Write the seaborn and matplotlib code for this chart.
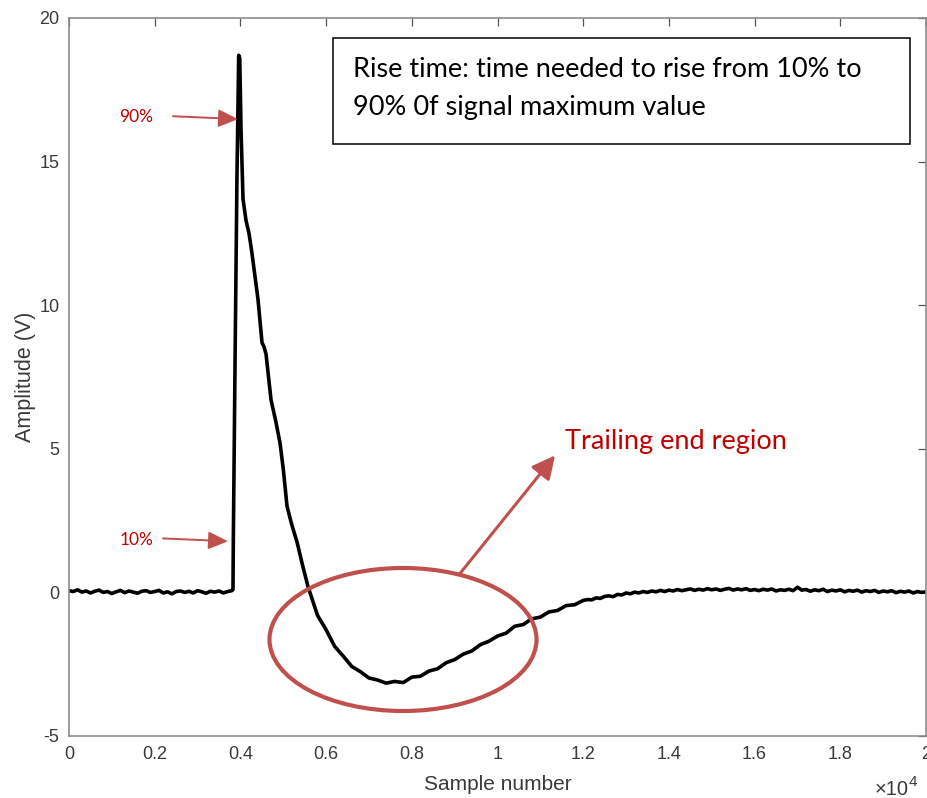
import numpy as np
import pandas as pd
import matplotlib
matplotlib.use("Agg")
import matplotlib.pyplot as plt
from matplotlib.patches import Ellipse, Rectangle
import seaborn as sns

# Pre-pulse baseline, sampled every 100 points
baseline_samples = list(range(0, 3900, 100))
baseline_amp = [
    0.06, 0.03, 0.09, 0.01, 0.05, -0.02, 0.04, 0.08, 0.00, 0.03, -0.04, 0.02,
    0.07, -0.01, 0.05, 0.01, -0.03, 0.04, 0.06, 0.00, 0.03, 0.07, -0.02, 0.02,
    -0.05, 0.03, 0.05, 0.00, 0.04, -0.02, 0.06, 0.02, -0.03, 0.04, 0.01, 0.05,
    -0.02, 0.03, 0.06,
]

# Pulse: sharp rise, decay and undershoot
pulse_samples = [
    3827, 3835, 3875, 3920, 3960, 3985, 4015, 4061, 4131, 4201, 4271, 4340,
    4411, 4504, 4550, 4598, 4715, 4820, 4925, 5000, 5088, 5200, 5322, 5450,
    5578, 5800, 6000, 6200, 6400, 6600, 6800, 7000, 7200, 7400, 7600, 7800,
    8000, 8200, 8400, 8600, 8800, 9000, 9200, 9400, 9600, 9800, 10000, 10200,
    10400, 10600, 10800, 11000, 11200, 11400, 11600, 11800, 12000,
]
pulse_amp = [
    0.10, 1.80, 8.00, 14.50, 18.70, 18.60, 16.10, 13.70, 12.95, 12.50, 11.80,
    11.00, 10.20, 8.70, 8.55, 8.30, 6.70, 6.00, 5.20, 4.30, 3.00, 2.35, 1.75,
    0.95, 0.20, -0.80, -1.30, -1.88, -2.22, -2.58, -2.76, -2.98, -3.05, -3.16,
    -3.10, -3.14, -2.95, -2.92, -2.74, -2.66, -2.45, -2.34, -2.15, -2.04,
    -1.82, -1.70, -1.52, -1.42, -1.18, -1.12, -0.92, -0.86, -0.68, -0.63,
    -0.46, -0.43, -0.28,
]

# Recovery tail back to the baseline, sampled every 100 points
tail_samples = list(range(12100, 20100, 100))
tail_amp = [
    -0.25, -0.26, -0.19, -0.21, -0.14, -0.12, -0.15, -0.07, -0.09, -0.02,
    -0.05, 0.01, -0.02, 0.03, 0.00, 0.05, 0.02, 0.07, 0.03, 0.08,
    0.05, 0.10, 0.06, 0.09, 0.12, 0.07, 0.11, 0.08, 0.13, 0.09,
    0.12, 0.07, 0.11, 0.14, 0.08, 0.12, 0.09, 0.13, 0.07, 0.10,
    0.06, 0.11, 0.08, 0.12, 0.05, 0.09, 0.07, 0.11, 0.06, 0.18,
    0.08, 0.10, 0.04, 0.09, 0.06, 0.11, 0.03, 0.08, 0.05, 0.09,
    0.02, 0.07, 0.04, 0.08, 0.01, 0.06, 0.03, 0.07, 0.00, 0.05,
    0.02, 0.06, -0.01, 0.04, 0.01, 0.05, -0.02, 0.03, 0.00, 0.02,
]

x_ticks = [0, 2000, 4000, 6000, 8000, 10000, 12000, 14000, 16000, 18000, 20000]
x_tick_labels = ["0", "0.2", "0.4", "0.6", "0.8", "1", "1.2", "1.4", "1.6", "1.8", "2"]
y_ticks = [-5, 0, 5, 10, 15, 20]
y_tick_labels = ["-5", "0", "5", "10", "15", "20"]

note_lines = ["Rise time: time needed to rise from 10% to",
              "90% 0f signal maximum value"]

sns.set_style("white")
plt.rcParams["font.family"] = ["Liberation Sans", "DejaVu Sans"]
plt.rcParams["axes.unicode_minus"] = False
plt.rcParams["mathtext.default"] = "regular"

ARROW_RED = "#C0504D"
TEXT_RED = "#C00000"
AXIS_GRAY = "#8c8c8c"
LABEL_GRAY = "#3a3a3a"
NOTE_FONT = ["Lato", "DejaVu Sans"]

df = pd.DataFrame({
    "sample": baseline_samples + pulse_samples + tail_samples,
    "amplitude": baseline_amp + pulse_amp + tail_amp,
})

fig = plt.figure(figsize=(9.28, 7.98), dpi=100)
ax = fig.add_axes([69 / 928, 62 / 798, 857 / 928, 718 / 798])

sns.lineplot(data=df, x="sample", y="amplitude", color="black",
             linewidth=2.6, errorbar=None, ax=ax)

ax.set_xlim(0, 20000)
ax.set_ylim(-5, 20)
ax.set_xticks(x_ticks)
ax.set_xticklabels(x_tick_labels)
ax.set_yticks(y_ticks)
ax.set_yticklabels(y_tick_labels)
ax.tick_params(direction="in", length=6, width=0.9, top=True, right=True,
               color="#555555", labelcolor=LABEL_GRAY, labelsize=13, pad=7)
for sp in ax.spines.values():
    sp.set_visible(True)
    sp.set_color(AXIS_GRAY)
    sp.set_linewidth(1.2)

ax.set_xlabel("Sample number", fontsize=15, color=LABEL_GRAY, labelpad=9)
ax.set_ylabel("Amplitude (V)", fontsize=15.5, color=LABEL_GRAY, labelpad=2)

# Scale factor of the x axis
ax.text(0.9795, -0.0822, "×10", transform=ax.transAxes, ha="right",
        va="baseline", fontsize=14.5, color=LABEL_GRAY)
ax.text(0.9800, -0.0690, "4", transform=ax.transAxes, ha="left",
        va="baseline", fontsize=11, color=LABEL_GRAY)

# Explanatory note box
ax.add_patch(Rectangle((0.308, 0.8245), 0.673, 0.1475, transform=ax.transAxes,
                       fill=True, facecolor="white", edgecolor="black",
                       linewidth=1.1, zorder=5))
ax.text(0.331, 0.9276, note_lines[0], transform=ax.transAxes, ha="left",
        va="center", fontsize=19.5, family=NOTE_FONT, color="black", zorder=6)
ax.text(0.331, 0.8747, note_lines[1], transform=ax.transAxes, ha="left",
        va="center", fontsize=19.5, family=NOTE_FONT, color="black", zorder=6)

# 90% / 10% markers on the rising edge
small_arrow = dict(arrowstyle="-|>,head_length=1.0,head_width=0.45",
                   mutation_scale=12, color=ARROW_RED, linewidth=1.4,
                   shrinkA=0, shrinkB=0)
ax.annotate("", xy=(3944, 16.48), xytext=(2427, 16.58), arrowprops=small_arrow)
ax.text(1564, 16.55, "90%", ha="center", va="center", fontsize=12.5,
        family=NOTE_FONT, color=TEXT_RED)
ax.annotate("", xy=(3711, 1.78), xytext=(2194, 1.88), arrowprops=small_arrow)
ax.text(1587, 1.81, "10%", ha="center", va="center", fontsize=12.5,
        family=NOTE_FONT, color=TEXT_RED)

# Trailing end region highlight
ax.add_patch(Ellipse((7795, -1.64), 6232, 4.98, fill=False,
                     edgecolor=ARROW_RED, linewidth=3.0, zorder=4))
ax.annotate("", xy=(11343, 4.77), xytext=(9126, 0.66),
            arrowprops=dict(arrowstyle="-|>,head_length=1.0,head_width=0.5",
                            mutation_scale=14, color=ARROW_RED, linewidth=2.2,
                            shrinkA=0, shrinkB=0))
ax.text(11577, 5.26, "Trailing end region", ha="left", va="center",
        fontsize=19.5, family=NOTE_FONT, color=TEXT_RED)

fig.savefig("out.png", dpi=100)
